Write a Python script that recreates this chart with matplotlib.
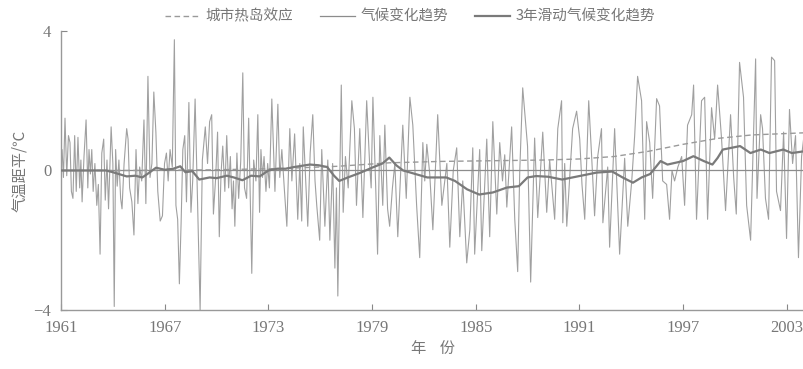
import numpy as np
import matplotlib
matplotlib.use("Agg")
import matplotlib.pyplot as plt
from matplotlib.lines import Line2D

plt.rcParams['font.family'] = ['Noto Sans CJK SC', 'DejaVu Sans']

# monthly temperature anomaly (peaks and troughs)
raw_years = [
    1961.00, 1961.06, 1961.14, 1961.23, 1961.33, 1961.43, 1961.52, 1961.60, 1961.69, 1961.79, 1961.88, 1961.98,
    1962.08, 1962.15, 1962.22, 1962.33, 1962.45, 1962.55, 1962.62, 1962.70, 1962.78, 1962.86, 1962.96,
    1963.07, 1963.16, 1963.26, 1963.36, 1963.47, 1963.56, 1963.66, 1963.75, 1963.90,
    1964.00, 1964.08, 1964.16, 1964.25, 1964.35, 1964.45, 1964.53, 1964.65, 1964.80, 1964.88, 1964.97,
    1965.10, 1965.22, 1965.34, 1965.45, 1965.55, 1965.67, 1965.80, 1965.91,
    1966.03, 1966.15, 1966.26, 1966.37, 1966.49, 1966.60, 1966.74, 1966.87, 1966.99,
    1967.10, 1967.20, 1967.31, 1967.44, 1967.56, 1967.65, 1967.75, 1967.85, 1967.95,
    1968.05, 1968.16, 1968.26, 1968.40, 1968.52, 1968.62, 1968.76, 1968.88,
    1969.05, 1969.18, 1969.35, 1969.48, 1969.60, 1969.72, 1969.82, 1969.95,
    1970.06, 1970.16, 1970.26, 1970.36, 1970.48, 1970.59, 1970.70, 1970.80, 1970.90, 1970.98,
    1971.06, 1971.18, 1971.28, 1971.40, 1971.52, 1971.62, 1971.74, 1971.86,
    1972.04, 1972.15, 1972.28, 1972.39, 1972.49, 1972.57, 1972.66, 1972.75, 1972.86, 1972.96,
    1973.06, 1973.20, 1973.38, 1973.55, 1973.66, 1973.78, 1973.92,
    1974.07, 1974.24, 1974.36, 1974.52, 1974.70, 1974.82, 1974.93,
    1975.02, 1975.15, 1975.28, 1975.42, 1975.57, 1975.70, 1975.80, 1975.97,
    1976.09, 1976.27, 1976.44, 1976.56, 1976.72, 1976.85, 1976.94,
    1977.02, 1977.22, 1977.33, 1977.46, 1977.62, 1977.83, 1977.98,
    1978.10, 1978.29, 1978.47, 1978.69, 1978.86, 1978.95,
    1979.05, 1979.22, 1979.32, 1979.45, 1979.62, 1979.74, 1979.90,
    1980.02, 1980.18, 1980.32, 1980.49, 1980.78, 1980.98,
    1981.19, 1981.36, 1981.58, 1981.76, 1981.94,
    1982.05, 1982.17, 1982.34, 1982.52, 1982.80,
    1983.04, 1983.33, 1983.50, 1983.70, 1983.90,
    1984.08, 1984.25, 1984.48, 1984.66, 1984.83, 1984.94,
    1985.23, 1985.35, 1985.64, 1985.81, 1985.99,
    1986.22, 1986.39, 1986.55, 1986.68, 1986.80,
    1987.08, 1987.26, 1987.43, 1987.55, 1987.72,
    1988.00, 1988.18, 1988.41, 1988.59, 1988.88,
    1989.11, 1989.28, 1989.57, 1989.75, 1989.97,
    1990.04, 1990.15, 1990.27, 1990.61, 1990.84,
    1991.02, 1991.15, 1991.31, 1991.54, 1991.71, 1991.88,
    1992.06, 1992.28, 1992.36, 1992.64, 1992.75,
    1993.04, 1993.33, 1993.62, 1993.80,
    1994.03, 1994.20, 1994.37, 1994.60, 1994.78, 1994.89,
    1995.07, 1995.24, 1995.47, 1995.64, 1995.82,
    1996.05, 1996.22, 1996.36, 1996.51, 1996.70, 1996.92,
    1997.09, 1997.26, 1997.50, 1997.61, 1997.78,
    1998.07, 1998.25, 1998.42, 1998.65, 1998.83,
    1999.00, 1999.23, 1999.46, 1999.75, 1999.93,
    2000.08, 2000.27, 2000.50, 2000.68, 2000.91,
    2001.20, 2001.28, 2001.49, 2001.60, 2001.77, 2001.95,
    2002.12, 2002.30, 2002.41, 2002.64, 2002.82, 2002.99,
    2003.16, 2003.34, 2003.51, 2003.68, 2003.86, 2004.00,
]
raw_anom = [
    0.1, 0.6, -0.2, 1.5, -0.15, 1.0, 0.8, -0.6, -0.8, 1.0, -0.6, 0.95,
    -0.5, 0.3, -0.9, 0.4, 1.45, -0.5, 0.6, -0.1, 0.6, -0.6, 0.2,
    -1.0, -0.4, -2.4, 0.5, 0.9, -0.85, 0.3, -1.1, 1.25,
    0.2, -3.9, 0.6, -0.45, 0.3, -0.8, -1.1, 0.2, 1.2, 0.9, -0.5,
    -0.9, -1.85, 0.6, -0.95, 0.1, -0.3, 1.45, -0.95,
    2.7, -0.2, 0.2, 2.25, 1.1, -0.6, -1.45, -1.3, 0.2,
    0.5, -0.3, 0.6, 0.1, 3.75, -1.0, -1.4, -3.25, -1.5,
    0.6, 1.0, -0.9, 1.95, -1.2, -0.3, 2.05, -0.5,
    -4.0, 0.3, 1.25, 0.2, 1.4, 1.6, -1.25, -0.2,
    1.1, -1.9, -0.1, 0.7, -0.6, 1.0, -0.5, 0.4, -1.1, -0.3,
    -1.6, 0.5, -0.8, 0.26, 2.8, -0.5, -0.8, 1.5,
    -2.95, 0.3, -0.3, 1.6, -1.2, 0.6, -0.2, 0.4, -0.6, 0.2,
    -0.5, 2.05, -0.6, 1.9, -0.2, 0.6, -0.5,
    -1.6, 1.2, -0.3, 1.05, -1.4, 0.2, -1.45,
    1.25, -0.2, -1.6, 0.5, 1.6, -0.3, -1.0, -2.0,
    0.6, -1.6, 0.3, -2.0, 0.2, -2.8, -0.5,
    -3.6, 2.45, -1.2, 0.4, -0.5, 2.0, 1.2,
    -1.0, 1.2, -1.35, 2.0, 0.2, -0.5,
    2.1, -0.6, -2.4, 1.0, -1.0, 1.3, -1.1,
    -1.6, -0.5, 0.2, -1.9, 1.3, -0.8,
    2.1, 1.3, -1.0, -2.5, 0.8,
    -0.3, 0.75, -0.1, -1.7, 1.6,
    -1.0, 0.2, -2.2, 0.0, 0.65,
    -1.9, -0.3, -2.65, -1.7, 0.65, -2.4,
    0.6, -2.3, 0.9, -1.9, 1.4,
    -1.25, 0.8, -0.3, 0.45, -1.05,
    1.25, -1.4, -2.9, 0.0, 2.37,
    0.7, -3.2, 0.93, -1.35, 1.1,
    -1.2, 0.3, -1.4, 1.2, 2.0,
    -1.5, 0.2, -1.6, 1.2, 1.7,
    0.9, -0.4, -1.4, 2.0, 0.4, -1.3,
    0.4, 1.2, -1.5, 0.1, -2.2,
    1.2, -2.4, 0.35, -1.6,
    -0.3, 1.0, 2.7, 2.0, -1.4, 1.4,
    0.8, -0.8, 2.06, 1.85, -0.3,
    -0.4, -1.4, 0.0, -0.3, 0.1, 0.4,
    -1.0, 1.3, 1.6, 2.45, -1.4,
    2.0, 2.1, -1.4, 1.8, 0.9,
    2.45, 0.9, -1.15, 1.6, -0.2,
    -1.25, 3.1, 2.1, -1.0, -2.0,
    3.2, -0.8, 1.6, 1.2, -0.8, -1.4,
    3.25, 3.15, -0.6, -1.15, 1.1, -1.95,
    1.75, 0.2, 1.0, -2.5, 0.4, 1.0,
]

# 3-year moving average
ma_years = [1961.0, 1962.0, 1963.0, 1963.6, 1964.0, 1964.8, 1965.3, 1965.7, 1966.0, 1966.5,
            1967.0, 1967.5, 1967.9, 1968.2, 1968.6, 1969.0, 1969.6, 1970.0, 1970.6, 1971.0,
            1971.5, 1972.0, 1972.5, 1973.0, 1973.5, 1974.0, 1974.5, 1975.4, 1975.9, 1976.4,
            1976.8, 1977.1, 1977.6, 1978.3, 1979.0, 1979.6, 1980.0, 1980.4, 1980.8, 1981.5,
            1982.2, 1983.3, 1983.8, 1984.5, 1985.2, 1986.0, 1986.8, 1987.5, 1988.0, 1988.5,
            1989.2, 1990.0, 1990.6, 1991.4, 1992.0, 1992.9, 1993.5, 1994.1, 1994.6, 1995.1,
            1995.7, 1996.1, 1997.0, 1997.6, 1998.2, 1998.7, 1999.0, 1999.3, 1999.8, 2000.3,
            2000.9, 2001.5, 2002.0, 2002.8, 2003.3, 2004.0]
ma_vals = [0.0, 0.0, 0.0, 0.0, -0.05, -0.17, -0.15, -0.2, -0.1, 0.08,
           0.02, 0.05, 0.12, -0.05, -0.02, -0.26, -0.2, -0.22, -0.15, -0.2,
           -0.28, -0.15, -0.17, 0.0, 0.05, 0.05, 0.1, 0.17, 0.15, 0.1,
           -0.15, -0.3, -0.2, -0.07, 0.08, 0.2, 0.37, 0.15, 0.0, -0.1,
           -0.2, -0.2, -0.3, -0.54, -0.69, -0.63, -0.49, -0.45, -0.2, -0.16,
           -0.18, -0.26, -0.2, -0.12, -0.06, -0.03, -0.2, -0.35, -0.2, -0.1,
           0.27, 0.17, 0.27, 0.41, 0.27, 0.17, 0.36, 0.6, 0.65, 0.7,
           0.5, 0.6, 0.5, 0.6, 0.5, 0.55]

# urban heat island effect (dashed)
uhi_years = [1961, 1965, 1970, 1974, 1977, 1980, 1983, 1986, 1989, 1991, 1993, 1995, 1997, 1999, 2001, 2004]
uhi_vals = [0.0, 0.0, 0.02, 0.06, 0.12, 0.22, 0.26, 0.28, 0.3, 0.33, 0.4, 0.55, 0.75, 0.92, 1.02, 1.08]

# climate trend (thin solid)
trend_years = [1961, 2004]
trend_vals = [0.0, 0.0]

xticks = [1961, 1967, 1973, 1979, 1985, 1991, 1997, 2003]
yticks = [-4, 0, 4]
ytick_labels = ['\u22124', '0', '4']

fig = plt.figure(figsize=(8.04, 3.69), dpi=100)
ax = fig.add_axes([0.0759, 0.160, 0.9241, 0.756])

ax.plot(raw_years, raw_anom, color='#a0a0a0', lw=0.8, zorder=2)
ax.plot(trend_years, trend_vals, color='#8c8c8c', lw=0.9, zorder=3)
ax.plot(uhi_years, uhi_vals, color='#9a9a9a', lw=1.0, ls=(0, (4, 2.5)), zorder=3)
ax.plot(ma_years, ma_vals, color='#7a7a7a', lw=1.6, zorder=4)

ax.set_xlim(1961, 2004)
ax.set_ylim(-4, 4)
ax.set_xticks(xticks, labels=[str(y) for y in xticks], fontfamily='Liberation Serif')
ax.set_yticks(yticks, labels=ytick_labels, fontfamily='Liberation Serif')
ax.tick_params(direction='in', length=4, colors='#888888', labelcolor='#777777', labelsize=12, pad=7)

for s in ['top', 'right']:
    ax.spines[s].set_visible(False)
for s in ['left', 'bottom']:
    ax.spines[s].set_color('#999999')
    ax.spines[s].set_linewidth(1.0)

ax.set_ylabel('气温距平/℃', color='#777777', fontsize=11, labelpad=4)
ax.set_xlabel('年    份', color='#777777', fontsize=11, labelpad=3)

handles = [
    Line2D([], [], color='#9a9a9a', lw=1.0, ls=(0, (4, 2.5))),
    Line2D([], [], color='#8c8c8c', lw=0.9),
    Line2D([], [], color='#7a7a7a', lw=1.6),
]
labels = ['城市热岛效应', '气候变化趋势', '3年滑动气候变化趋势']
fig.legend(handles, labels, loc='center', bbox_to_anchor=(0.51, 0.955), ncol=3, frameon=False,
           fontsize=10.5, labelcolor='#777777', handlelength=2.4, handletextpad=0.4, columnspacing=1.8)

fig.savefig('out.png', dpi=100)
